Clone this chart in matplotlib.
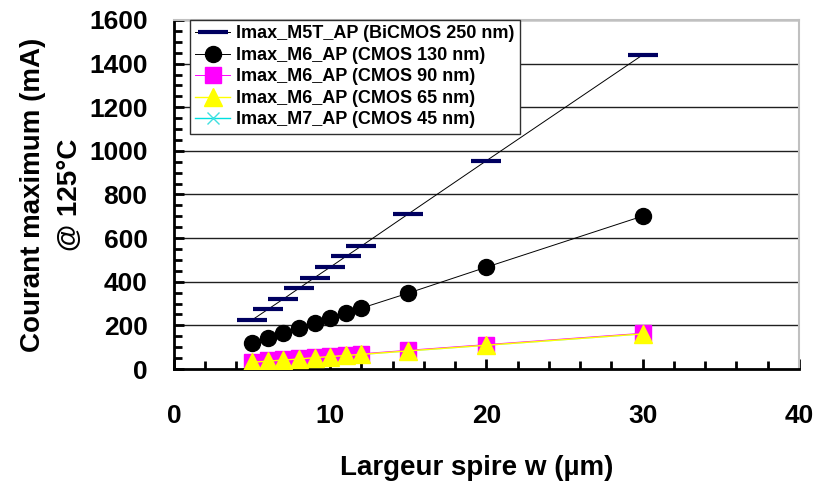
import numpy as np
import matplotlib.pyplot as plt
from matplotlib.ticker import MultipleLocator

plt.rcParams['font.family'] = ['Liberation Sans', 'DejaVu Sans']
plt.rcParams['font.weight'] = 'bold'

# Data
w = [5, 6, 7, 8, 9, 10, 11, 12, 15, 20, 30]
bicmos250 = [225, 273, 321, 370, 419, 467, 516, 564, 711, 955, 1440]
cmos130 = [119, 143, 166, 188, 210, 233, 256, 279, 348, 467, 701]
cmos90 = [34, 39, 44, 49, 55, 60, 65, 70, 86, 112, 164]
cmos65 = [31, 36, 41, 46, 52, 57, 62, 67, 83, 109, 161]
cmos45 = [31, 36, 41, 46, 52, 57, 62, 67, 83, 109, 161]

labels = ['Imax_M5T_AP (BiCMOS 250 nm)',
          'Imax_M6_AP (CMOS 130 nm)',
          'Imax_M6_AP (CMOS 90 nm)',
          'Imax_M6_AP (CMOS 65 nm)',
          'Imax_M7_AP (CMOS 45 nm)']

fig = plt.figure(figsize=(8.18, 4.84), dpi=100)
ax = fig.add_axes([0.2127, 0.2376, 0.764, 0.7211])

# horizontal grid
for yg in range(200, 1601, 200):
    ax.axhline(yg, color='#202020', lw=1.0, zorder=0)

ax.plot(w, bicmos250, color='black', lw=0.7, marker='_', ms=22, mew=3,
        mec='#000060', label=labels[0], zorder=3)
ax.plot(w, cmos130, color='black', lw=0.7, marker='o', ms=11.5,
        mfc='black', mec='black', label=labels[1], zorder=3)
ax.plot(w, cmos90, color='#ff00ff', lw=0.7, marker='s', ms=11.5,
        mfc='#ff00ff', mec='#ff00ff', label=labels[2], zorder=2)
ax.plot(w, cmos65, color='#ffff00', lw=1.0, marker='^', ms=12.5,
        mfc='#ffff00', mec='#ffff00', label=labels[3], zorder=4)
ax.plot(w, cmos45, color='#00e0e0', lw=1.0, alpha=0.5, marker='x', ms=8,
        mec='#40e0e0', label=labels[4], zorder=1.5)

ax.set_xlim(0, 40)
ax.set_ylim(0, 1600)
ax.xaxis.set_major_locator(MultipleLocator(10))
ax.xaxis.set_minor_locator(MultipleLocator(2))
ax.yaxis.set_major_locator(MultipleLocator(200))
ax.yaxis.set_minor_locator(MultipleLocator(50))
ax.tick_params(axis='both', which='both', direction='in', width=2,
               top=False, right=False)
ax.tick_params(axis='both', which='major', length=7, labelsize=19)
ax.tick_params(axis='both', which='minor', length=6)
ax.tick_params(axis='x', which='major', pad=25)
ax.tick_params(axis='y', which='major', pad=19)
for t in ax.get_xticklabels() + ax.get_yticklabels():
    t.set_fontweight('bold')

for s in ['left', 'bottom']:
    ax.spines[s].set_linewidth(2)
    ax.spines[s].set_color('black')
for s in ['top', 'right']:
    ax.spines[s].set_linewidth(1.5)
    ax.spines[s].set_color('#c0c0c0')

ax.set_xlabel('Largeur spire w (µm)', fontsize=20, fontweight='bold')
ax.xaxis.set_label_coords(0.485, -0.245)
ax.set_ylabel('Courant maximum (mA)\n@ 125°C', fontsize=20, fontweight='bold',
              labelpad=4, linespacing=1.55)

leg = ax.legend(loc='upper left', bbox_to_anchor=(0.0256, 1.0), borderaxespad=0,
                prop={'size': 13, 'weight': 'bold'}, fancybox=False,
                edgecolor='#303030', framealpha=1, handlelength=1.9,
                handletextpad=0.35, labelspacing=0.25, borderpad=0.3)
leg.get_frame().set_linewidth(1.0)
for h in leg.get_lines():
    h.set_alpha(1)

fig.savefig('out.png', dpi=100)
